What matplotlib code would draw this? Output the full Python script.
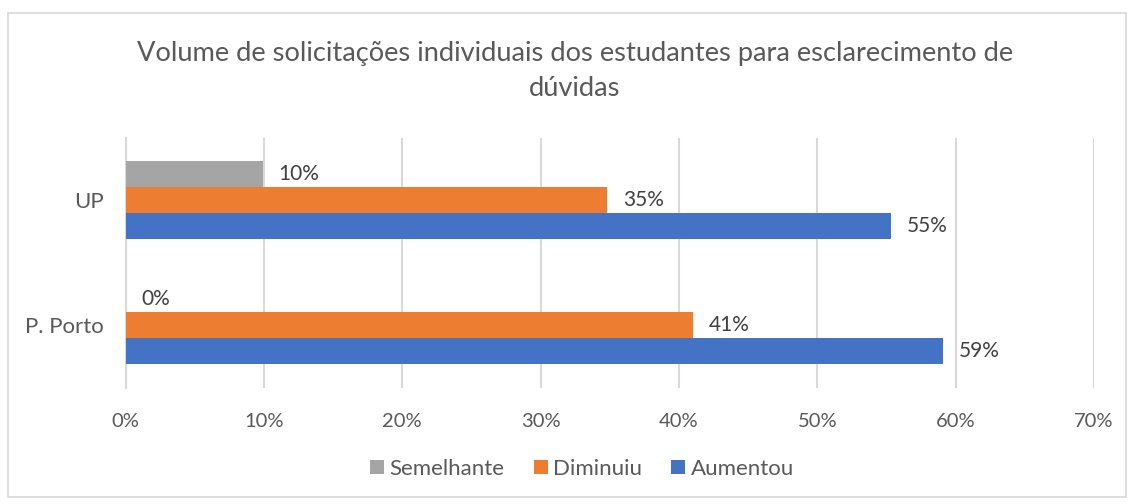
import matplotlib
matplotlib.use("Agg")
import matplotlib.pyplot as plt
from matplotlib.patches import Patch, Rectangle

plt.rcParams['font.family'] = ['Lato', 'DejaVu Sans']

# data
categories = ["P. Porto", "UP"]
series = ["Semelhante", "Diminuiu", "Aumentou"]
semelhante = [0.0, 9.9]
diminuiu = [41.0, 34.8]
aumentou = [59.1, 55.3]
colors = ["#A5A5A5", "#ED7D31", "#4472C4"]
x_ticks = [0, 10, 20, 30, 40, 50, 60, 70]

text_color = "#595959"
grid_color = "#D9D9D9"

fig = plt.figure(figsize=(11.33, 5.04), dpi=100)
ax = fig.add_axes([0.1108, 0.2302, 0.9656 - 0.1108, 0.7262 - 0.2302])

# chart border
fig.patches.append(Rectangle((7.5 / 1133, 1 - 497 / 504), 1118 / 1133, 484 / 504,
                             transform=fig.transFigure, fill=False,
                             edgecolor=grid_color, linewidth=1.2))

h = 0.208
offsets = [h, 0, -h]
all_values = [semelhante, diminuiu, aumentou]
ypos = list(range(len(categories)))

for name, vals, off, c in zip(series, all_values, offsets, colors):
    ys = [y + off for y in ypos]
    ax.barh(ys, vals, height=h, color=c, zorder=3)
    for y, v in zip(ys, vals):
        ax.annotate(f"{round(v)}%", (v, y), xytext=(16, 0), textcoords="offset pixels",
                    ha="left", va="center", fontsize=15, color="#404040")

ax.set_xlim(0, 70)
ax.set_ylim(-0.5, 1.5)
ax.set_xticks(x_ticks)
ax.set_xticklabels([f"{t}%" for t in x_ticks])
ax.set_yticks(ypos)
ax.set_yticklabels(categories)
ax.tick_params(axis="both", length=0, labelcolor=text_color)
ax.tick_params(axis="x", pad=18, labelsize=14.5)
ax.tick_params(axis="y", pad=15.5, labelsize=16)
ax.grid(axis="x", color=grid_color, linewidth=1.5, zorder=0)
for s in ["top", "right", "bottom"]:
    ax.spines[s].set_visible(False)
ax.spines["left"].set_color(grid_color)
ax.spines["left"].set_linewidth(1.5)

tx = 575 / 1133
fig.text(tx, 1 - 54 / 504, "Volume de solicitações individuais dos estudantes para esclarecimento de",
         ha="center", va="center", fontsize=19.6, color=text_color)
fig.text(tx, 1 - 89 / 504, "dúvidas", ha="center", va="center", fontsize=19.6, color=text_color)

handles = [Patch(facecolor=c, label=n) for n, c in zip(series, colors)]
fig.legend(handles=handles, loc="center", bbox_to_anchor=(582 / 1133, 1 - 469 / 504), ncol=3,
           frameon=False, fontsize=16, labelcolor=text_color, handlelength=0.63,
           handleheight=0.63, handletextpad=0.25, columnspacing=1.3)

fig.savefig("out.png", dpi=100)
